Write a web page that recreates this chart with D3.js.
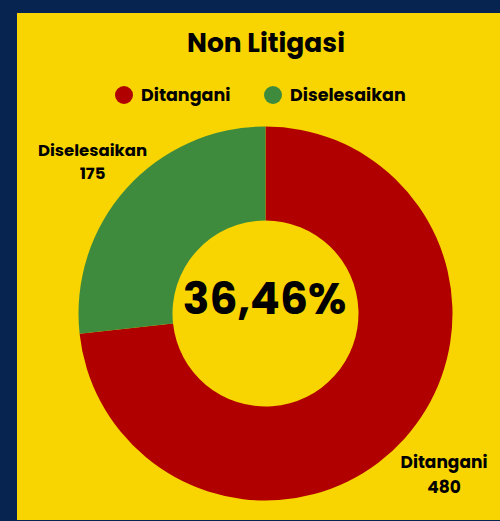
<!DOCTYPE html>
<html><head><meta charset="utf-8">
<script src="https://cdn.jsdelivr.net/npm/d3@7"></script>
<style>
html,body{margin:0;padding:0;background:#06244f;}
svg{display:block;}
text{font-family:Poppins,"Inter","Open Sans",sans-serif;font-weight:700;fill:#000;}
</style></head>
<body>
<script>
const title = "Non Litigasi";
const categories = ["Ditangani", "Diselesaikan"];
const values = [480, 175];
const colors = ["#b00000", "#3f8b3e"];
const centerLabel = "36,46%";

const W = 500, H = 521;
const svg = d3.select("body").append("svg").attr("width", W).attr("height", H);
svg.append("rect").attr("width", W).attr("height", H).attr("fill", "#06244f");
svg.append("rect").attr("x", 17).attr("y", 13).attr("width", 483).attr("height", 507).attr("fill", "#f8d500");

svg.append("text").attr("x", 266).attr("y", 52).attr("text-anchor", "middle")
  .style("font-size", "26.5px").style("font-weight", 700).text(title);

// legend
const legendX = [124, 273];
const lg = svg.append("g");
categories.forEach((c, i) => {
  lg.append("circle").attr("cx", legendX[i]).attr("cy", 95).attr("r", 9).attr("fill", colors[i]);
  lg.append("text").attr("x", legendX[i] + 17).attr("y", 101).style("font-size", "17.5px").style("font-weight", 700).text(c);
});

const cx = 265.5, cy = 313.5, R = 187, r = 93;
const pie = d3.pie().sort(null).value(d => d)(values);
const arc = d3.arc().innerRadius(r).outerRadius(R);
const g = svg.append("g").attr("transform", `translate(${cx},${cy})`);
g.selectAll("path").data(pie).join("path").attr("d", arc).attr("fill", (d, i) => colors[i]);

g.append("text").attr("x", -1).attr("y", 0).attr("text-anchor", "middle")
  .style("font-size", "44px").style("font-weight", 700).text(centerLabel);

// outside labels
const labelPos = [[444 - cx, 468 - cy, 25, 17], [92.5 - cx, 156 - cy, 23, 16.5]];
pie.forEach((d, i) => {
  const t = g.append("text").attr("text-anchor", "middle").style("font-size", labelPos[i][3] + "px").style("font-weight", 700);
  t.append("tspan").attr("x", labelPos[i][0]).attr("y", labelPos[i][1]).text(categories[i]);
  t.append("tspan").attr("x", labelPos[i][0]).attr("y", labelPos[i][1] + labelPos[i][2]).text(values[i]);
});
</script>
</body></html>
